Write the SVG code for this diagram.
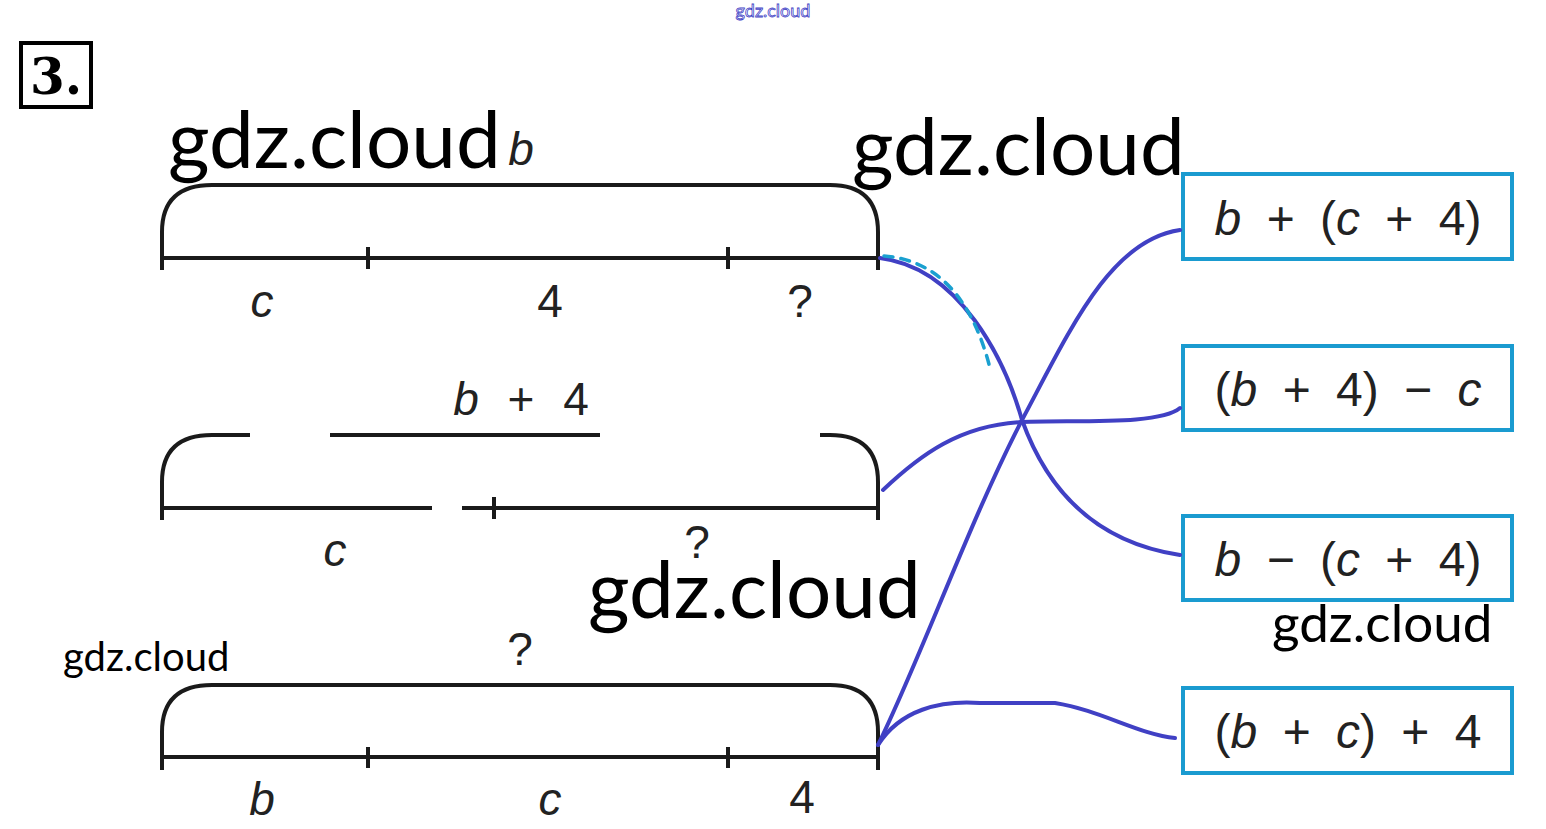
<svg xmlns="http://www.w3.org/2000/svg" width="1546" height="829" viewBox="0 0 1546 829">
<style>
.bar{fill:none;stroke:#1a1a1a;stroke-width:4;stroke-linecap:butt}
.tick{stroke:#1a1a1a;stroke-width:4}
.lbl{font-family:"Liberation Sans",Arial,sans-serif;font-size:46px;fill:#222;text-anchor:middle}
.i{font-style:italic}
.box rect{fill:#fff;stroke:#1a9bd0;stroke-width:4}
.box text{font-family:"Liberation Sans",Arial,sans-serif;font-size:48px;fill:#222;text-anchor:middle;word-spacing:12px}
.wm{font-family:Lato,"Open Sans",sans-serif;fill:#000}
.con path{fill:none;stroke:#4040c4;stroke-width:4;stroke-linecap:round}
.con path.dash{stroke:#1aa0d0;stroke-width:3.5;stroke-dasharray:9 8}
</style>
<rect width="1546" height="829" fill="#fff"/>
<text x="773" y="17" class="wm" font-size="18" stroke="#4343c6" stroke-width="0.8" text-anchor="middle" style="fill:#fff">gdz.cloud</text>
<g id="num">
<rect x="21" y="43" width="70" height="64" fill="none" stroke="#000" stroke-width="4"/>
<text x="56" y="94" font-family="DejaVu Serif,serif" font-weight="bold" font-size="50" text-anchor="middle">3.</text>
</g>
<g id="bar1">
<path class="bar" d="M162,258 V232 Q162,185 212,185 H830 Q878,185 878,232 V258"/>
<line class="bar" x1="162" y1="258" x2="878" y2="258"/>
<line class="tick" x1="162" y1="244" x2="162" y2="270"/>
<line class="tick" x1="368" y1="247" x2="368" y2="269"/>
<line class="tick" x1="728" y1="247" x2="728" y2="269"/>
<line class="tick" x1="878" y1="244" x2="878" y2="270"/>
<text class="lbl i" x="262" y="317">c</text>
<text class="lbl" x="550" y="317">4</text>
<text class="lbl" x="800" y="317">?</text>
<text class="lbl i" x="521" y="165">b</text>
</g>
<g id="bar2">
<path class="bar" d="M162,508 V482 Q162,435 212,435 H250 M330,435 H600 M820,435 H830 Q878,435 878,482 V508"/>
<path class="bar" d="M162,508 H432 M462,508 H878"/>
<line class="tick" x1="162" y1="494" x2="162" y2="520"/>
<line class="tick" x1="494" y1="497" x2="494" y2="519"/>
<line class="tick" x1="878" y1="494" x2="878" y2="520"/>
<text class="lbl i" x="335" y="566">c</text>
<text class="lbl" x="697" y="558">?</text>
<text class="lbl" x="521" y="415" word-spacing="16"><tspan class="i">b</tspan> + 4</text>
</g>
<g id="bar3">
<path class="bar" d="M162,757 V732 Q162,685 212,685 H830 Q878,685 878,732 V757"/>
<line class="bar" x1="162" y1="757" x2="878" y2="757"/>
<line class="tick" x1="162" y1="744" x2="162" y2="770"/>
<line class="tick" x1="368" y1="747" x2="368" y2="768"/>
<line class="tick" x1="728" y1="747" x2="728" y2="768"/>
<line class="tick" x1="878" y1="744" x2="878" y2="770"/>
<text class="lbl i" x="262" y="815">b</text>
<text class="lbl i" x="550" y="815">c</text>
<text class="lbl" x="802" y="813">4</text>
<text class="lbl" x="520" y="665">?</text>
</g>
<g id="box1" class="box"><rect x="1183" y="174" width="329" height="85"/><text x="1348" y="235"><tspan class="i">b</tspan> + (<tspan class="i">c</tspan> + 4)</text></g>
<g id="box2" class="box"><rect x="1183" y="346" width="329" height="84"/><text x="1348" y="406">(<tspan class="i">b</tspan> + 4) − <tspan class="i">c</tspan></text></g>
<g id="box3" class="box"><rect x="1183" y="516" width="329" height="84"/><text x="1348" y="576"><tspan class="i">b</tspan> − (<tspan class="i">c</tspan> + 4)</text></g>
<g id="box4" class="box"><rect x="1183" y="688" width="329" height="85"/><text x="1348" y="748">(<tspan class="i">b</tspan> + <tspan class="i">c</tspan>) + 4</text></g>
<g id="connectors" class="con">
<path d="M880,258 C960,268 1005,360 1022,420 C1040,470 1080,540 1180,555"/>
<path d="M883,490 C920,455 960,425 1022,422 C1080,420 1160,425 1180,408"/>
<path d="M878,745 C920,660 970,520 1022,420 C1070,330 1110,240 1180,230"/>
<path d="M878,745 C900,710 940,700 980,703 H1055 C1100,710 1140,735 1175,738"/>
<path class="dash" d="M884,256 C937,260 972,298 990,368"/>
</g>
<text class="wm" x="168" y="168" font-size="80">gdz.cloud</text>
<text class="wm" x="852" y="175" font-size="80">gdz.cloud</text>
<text class="wm" x="588" y="618" font-size="80">gdz.cloud</text>
<text class="wm" x="1272" y="642" font-size="53">gdz.cloud</text>
<text class="wm" x="63" y="671" font-size="40">gdz.cloud</text>
</svg>
